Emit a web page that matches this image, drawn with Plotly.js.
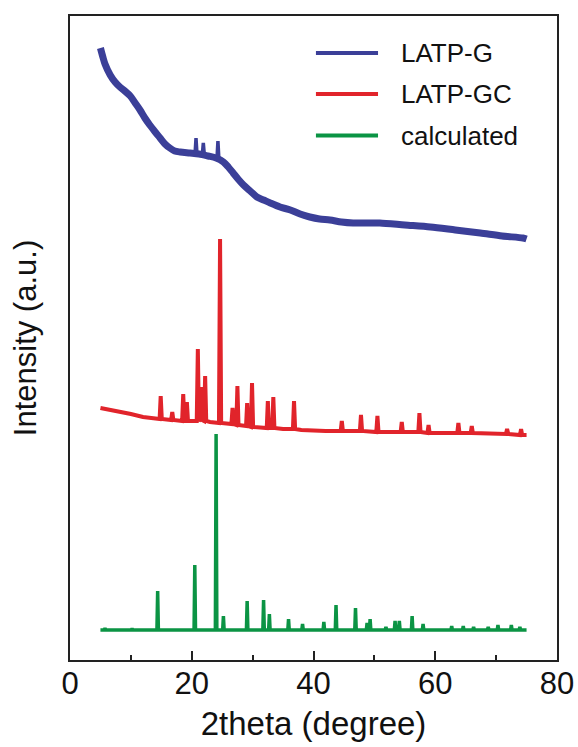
<!DOCTYPE html>
<html>
<head>
<meta charset="utf-8">
<script src="https://cdn.plot.ly/plotly-3.0.1.min.js"></script>
<style>html,body{margin:0;padding:0;background:#fff;}#chart{width:578px;height:747px;}</style>
</head>
<body>
<div id="chart"></div>
<script>
// ---- data (intensity in arbitrary units, stacked offsets) ----
// LATP-G (amorphous hump)
var blueBgX = [5, 5.4, 5.75, 6.6, 7.4, 8.2, 9.0, 9.9, 10.7, 11.5, 12.3, 13.1, 14.0, 14.8, 15.6, 16.4, 17.2, 18.1, 19.7, 21.2, 22.7, 24.0, 25.2, 26.0, 26.8, 27.6, 28.5, 29.6, 30.7, 31.8, 32.9, 34.5, 36.2, 37.8, 39.4, 41.0, 42.7, 44.6, 46.5, 48.7, 50.9, 55.0, 59.2, 63.3, 67.4, 71.0, 74.4, 75];
var blueBgY = [612, 603, 596, 585, 578, 573, 569, 564, 557, 550, 542, 535, 528, 522, 516, 512, 509, 508, 507, 506, 504, 502, 498, 493, 487, 481, 475, 469, 463, 460, 457, 453, 450, 446, 443, 441, 440, 438, 437, 437, 437, 435, 433, 430, 427, 424, 422, 421];
var bluePeakX = [20.7, 21.9, 24.3];
var bluePeakTop = [522, 517, 519];
var bluePeakBase = [507, 506, 502];

// LATP-GC (glass-ceramic)
var redBgX = [5, 6, 8, 10, 12, 14, 17.5, 20, 23, 25.5, 28, 31, 35, 38, 42, 46, 52, 60, 68, 72, 75];
var redBgY = [252, 251, 248, 246, 243, 241, 240, 239, 238, 237, 235, 233, 231, 230, 229, 229, 228, 227, 227, 226, 225];
var redPeakX = [14.9, 16.8, 18.6, 19.2, 21.0, 21.5, 22.2, 24.65, 26.7, 27.5, 29.1, 29.9, 32.5, 33.4, 36.8, 44.65, 47.8, 50.5, 54.5, 57.4, 58.9, 63.8, 66.0, 71.8, 74.1];
var redPeakTop = [264, 248, 266, 258, 311, 273, 284, 421, 252, 274, 257, 277, 259, 263, 259, 239, 245, 244, 238, 247, 235, 237, 234, 231, 231];
var redPeakBase = [241, 240, 239, 239, 239, 240, 239, 237, 236, 235, 234, 233, 232, 232, 231, 229, 229, 228, 228, 228, 227, 227, 227, 226, 225];

// calculated pattern
var greenBgX = [5, 75];
var greenBgY = [30, 30];
var greenPeakX = [5.75, 10.2, 14.4, 20.5, 24.0, 25.2, 29.1, 31.8, 32.75, 35.9, 38.2, 41.7, 43.7, 46.9, 48.8, 49.3, 51.9, 53.4, 54.1, 56.2, 58.0, 62.7, 64.6, 66.3, 68.7, 70.3, 72.5, 73.9];
var greenPeakTop = [32, 31.5, 69, 95, 226, 44, 59, 60, 46, 41, 36, 38, 55, 52, 37, 41, 33, 39, 39, 44, 36, 34, 34, 33, 33, 35, 35, 33];
var greenPeakBase = [30, 30, 30, 30, 30, 30, 30, 30, 30, 30, 30, 30, 30, 30, 30, 30, 30, 30, 30, 30, 30, 30, 30, 30, 30, 30, 30, 30];

var seriesNames = ["LATP-G", "LATP-GC", "calculated"];
var xTickVals = [0, 20, 40, 60, 80];
var xTickText = ["0", "20", "40", "60", "80"];

// ---- build traces: merge background points with narrow peaks ----
function merge(bgX, bgY, pkX, pkTop, pkBase, hw) {
  var pts = [];
  for (var i = 0; i < bgX.length; i++) pts.push([bgX[i], bgY[i]]);
  for (var j = 0; j < pkX.length; j++) {
    pts.push([pkX[j] - hw, pkBase[j]]);
    pts.push([pkX[j], pkTop[j]]);
    pts.push([pkX[j] + hw, pkBase[j]]);
  }
  pts.sort(function (a, b) { return a[0] - b[0]; });
  return { x: pts.map(function (p) { return p[0]; }), y: pts.map(function (p) { return p[1]; }) };
}
// spikes as separate segments (base -> top -> base), separated by gaps
function spikes(pkX, pkTop, pkBase, hw) {
  var x = [], y = [];
  for (var j = 0; j < pkX.length; j++) {
    x.push(pkX[j] - hw, pkX[j], pkX[j] + hw, null);
    y.push(pkBase[j], pkTop[j], pkBase[j], null);
  }
  return { x: x, y: y };
}

var blueSp = spikes(bluePeakX, bluePeakTop, bluePeakBase, 0.15);
var red = merge(redBgX, redBgY, redPeakX, redPeakTop, redPeakBase, 0.18);
var green = merge(greenBgX, greenBgY, greenPeakX, greenPeakTop, greenPeakBase, 0.12);

var colors = ["#3b3f98", "#e1242b", "#0b9444"];
var FONT = "Liberation Sans, Arial, Helvetica, sans-serif";

var traces = [
  { x: blueBgX, y: blueBgY, mode: "lines", name: seriesNames[0], line: { color: colors[0], width: 7, shape: "spline", smoothing: 0.8 }, showlegend: false },
  { x: blueSp.x, y: blueSp.y, mode: "lines", name: seriesNames[0], line: { color: colors[0], width: 3.5 }, connectgaps: false, showlegend: false },
  { x: red.x, y: red.y, mode: "lines", name: seriesNames[1], line: { color: colors[1], width: 4 }, showlegend: false },
  { x: green.x, y: green.y, mode: "lines", name: seriesNames[2], line: { color: colors[2], width: 3.5 }, showlegend: false }
];

// legend drawn as shapes + text
var legY = [607, 566, 524.5];
var shapes = [], annotations = [];
for (var k = 0; k < 3; k++) {
  shapes.push({ type: "line", xref: "x", yref: "y", x0: 40.4, x1: 50.6, y0: legY[k], y1: legY[k], line: { color: colors[k], width: 4 } });
  annotations.push({ xref: "x", yref: "y", x: 54.0, y: legY[k], text: seriesNames[k], showarrow: false, xanchor: "left", yanchor: "middle", font: { family: FONT, size: 26, color: "#111" } });
}

var layout = {
  width: 578, height: 747,
  margin: { l: 70, r: 21, t: 16, b: 87 },
  paper_bgcolor: "#fff", plot_bgcolor: "#fff",
  font: { family: FONT, color: "#111" },
  xaxis: {
    range: [0, 80], tickmode: "array", tickvals: xTickVals, ticktext: xTickText,
    ticks: "inside", ticklen: 9, tickwidth: 2, tickcolor: "#222",
    minor: { ticks: "inside", ticklen: 5, tickwidth: 2, dtick: 10, tickcolor: "#222", showgrid: false },
    showline: true, linewidth: 2, linecolor: "#222", mirror: true,
    showgrid: false, zeroline: false,
    tickfont: { family: FONT, size: 31, color: "#111" },
    ticklabelstandoff: -5,
    title: { text: "2theta (degree)", font: { family: FONT, size: 33, color: "#111" }, standoff: 12 },
    automargin: false, fixedrange: true
  },
  yaxis: {
    range: [0, 644], showticklabels: false, ticks: "",
    showline: true, linewidth: 2, linecolor: "#222", mirror: true,
    showgrid: false, zeroline: false,
    title: { text: "Intensity (a.u.)", font: { family: FONT, size: 31, color: "#111" }, standoff: 22 },
    automargin: false, fixedrange: true
  },
  shapes: shapes,
  annotations: annotations,
  showlegend: false
};

Plotly.newPlot("chart", traces, layout, { displayModeBar: false, staticPlot: true });
</script>
</body>
</html>
